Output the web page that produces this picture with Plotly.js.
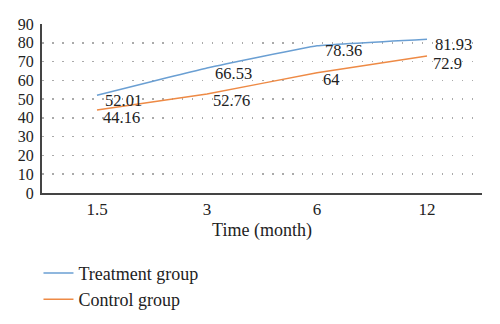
<!DOCTYPE html>
<html><head><meta charset="utf-8">
<script src="https://cdn.plot.ly/plotly-3.0.1.min.js"></script>
<style>html,body{margin:0;padding:0;background:#fff}</style>
</head><body><div id="chart" style="width:500px;height:324px"></div>
<script>
const categories = ["1.5", "3", "6", "12"];
const treatment = [52.01, 66.53, 78.36, 81.93];
const control = [44.16, 52.76, 64, 72.9];
const treatmentLabels = ["52.01", "66.53", "78.36", "81.93"];
const controlLabels = ["44.16", "52.76", "64", "72.9"];
const yTicks = [0, 10, 20, 30, 40, 50, 60, 70, 80, 90];

const fam = "Liberation Serif";
const tickFont = {family: fam, size: 16, color: "#222"};
const xTickFont = {family: fam, size: 17, color: "#222"};
const labelFont = {family: fam, size: 16.5, color: "#222"};
const bigFont = {family: fam, size: 18, color: "#222"};

const traces = [
  {x: categories, y: treatment, name: "Treatment group", type: "scatter", mode: "lines",
   line: {color: "#6a9fd3", width: 1.5, shape: "spline", smoothing: 0.3}},
  {x: categories, y: control, name: "Control group", type: "scatter", mode: "lines",
   line: {color: "#ee8a45", width: 1.5, shape: "spline", smoothing: 0.3}}
];

const annotations = [];
categories.forEach((c, i) => {
  annotations.push({x: i, y: treatment[i], text: treatmentLabels[i], showarrow: false,
    xanchor: "left", yanchor: "middle", xshift: 6, yshift: -5, font: labelFont});
  annotations.push({x: i, y: control[i], text: controlLabels[i], showarrow: false,
    xanchor: "left", yanchor: "middle", xshift: 4, yshift: -7, font: labelFont});
});

const layout = {
  width: 500, height: 324,
  margin: {l: 42, r: 18, t: 24, b: 131, autoexpand: false},
  paper_bgcolor: "#fff", plot_bgcolor: "#fff",
  font: tickFont,
  showlegend: true,
  legend: {x: -0.008, y: -0.365, xanchor: "left", yanchor: "top", orientation: "v",
    font: bigFont, tracegroupgap: 0, itemwidth: 30, bgcolor: "rgba(0,0,0,0)"},
  xaxis: {type: "category", range: [-0.5, 3.5], showgrid: false, zeroline: false, automargin: false,
    showline: true, linecolor: "#444", linewidth: 2, ticks: "", tickfont: xTickFont, ticklabelstandoff: 0,
    title: {text: "Time (month)", font: bigFont, standoff: 5}},
  yaxis: {range: [0, 90], tickvals: yTicks, ticktext: yTicks.map(String), showgrid: true, automargin: false,
    gridcolor: "#aaa", gridwidth: 1.5, griddash: "1.5px,8.5px", zeroline: false,
    showline: true, linecolor: "#444", linewidth: 2, ticks: "", tickfont: tickFont, ticklabelstandoff: 3},
  annotations: annotations
};

Plotly.newPlot("chart", traces, layout, {displayModeBar: false, staticPlot: true});
</script></body></html>
